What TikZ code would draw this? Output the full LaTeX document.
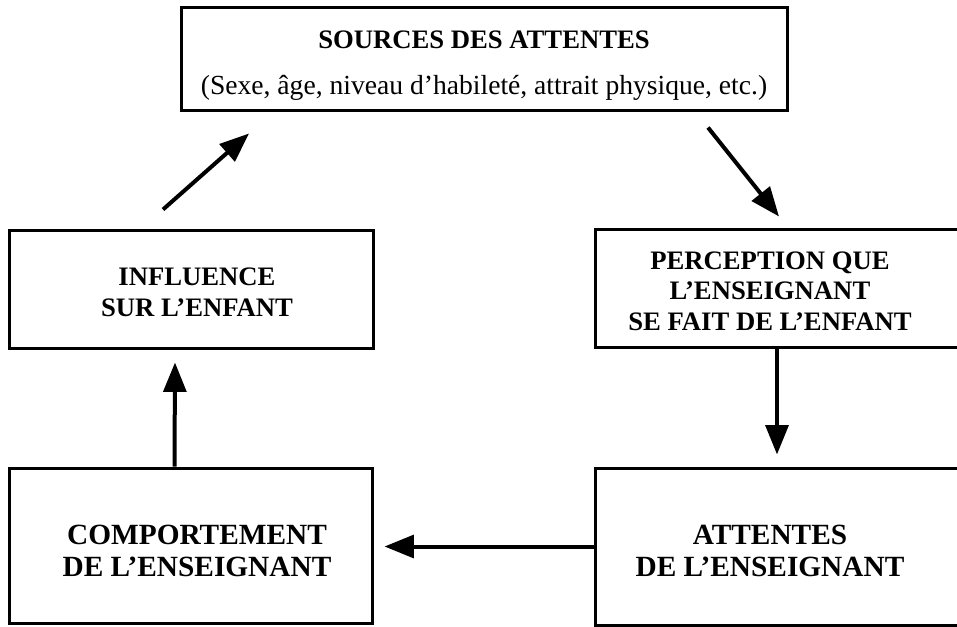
\documentclass[tikz,border=0pt]{standalone}
\usepackage{fontspec}
\setmainfont{Liberation Serif}
\usetikzlibrary{arrows.meta}

\tikzset{
    box/.style={draw, line width=2.25pt, rectangle, inner sep=0pt},
    boxtext/.style={align=center, inner sep=0pt, font=\bfseries\fontsize{20}{23}\selectfont},
    bigtext/.style={boxtext, font=\bfseries\fontsize{22}{24}\selectfont},
    arrow/.style={line width=3pt, -{Triangle[length=22pt,width=17pt]}}
}

\begin{document}
\begin{tikzpicture}[x=0.75pt,y=-0.75pt]
            \useasboundingbox (0,0) rectangle (957,626);

            %boxes
            \node[box, minimum width=606*0.75pt, minimum height=103*0.75pt,
                label={[boxtext, shift={(0,7)}]center:SOURCES DES ATTENTES\\[12pt]
                {\mdseries\fontsize{20.7}{23}\selectfont(Sexe, âge, niveau d'habileté, attrait physique, etc.)}}]
                (sources) at (484,58.5) {};
            \node[box, minimum width=364*0.75pt, minimum height=118*0.75pt,
                label={[boxtext, shift={(6,3.5)}]center:INFLUENCE\\SUR L'ENFANT}]
                (influence) at (191,289) {};
            \node[box, minimum width=364*0.75pt, minimum height=118*0.75pt,
                label={[boxtext, shift={(-7,3)}]center:PERCEPTION QUE\\L'ENSEIGNANT\\SE FAIT DE L'ENFANT}]
                (perception) at (777,288) {};
            \node[box, minimum width=363*0.75pt, minimum height=155*0.75pt,
                label={[bigtext, shift={(6.5,5)}]center:COMPORTEMENT\\DE L'ENSEIGNANT}]
                (comportement) at (190.5,545.5) {};
            \node[box, minimum width=364*0.75pt, minimum height=157*0.75pt,
                label={[bigtext, shift={(-7,4)}]center:ATTENTES\\DE L'ENSEIGNANT}]
                (attentes) at (777,546.5) {};

            %cycle
            \draw[arrow] ([shift={(224,16)}]sources.south) -- ([shift={(2,-11)}]perception.north);
            \draw[arrow] (perception.south) -- ([shift={(0,-12)}]attentes.north);
            \draw[arrow] (attentes.west) -- ([shift={(11,0)}]comportement.east |- attentes.west);
            \draw[arrow] ([shift={(-16,0)}]comportement.north) -- ([shift={(-16,13)}]influence.south);
            \draw[arrow] ([shift={(-28,-19)}]influence.north) -- ([shift={(-235,22)}]sources.south);

        \end{tikzpicture}
\end{document}
